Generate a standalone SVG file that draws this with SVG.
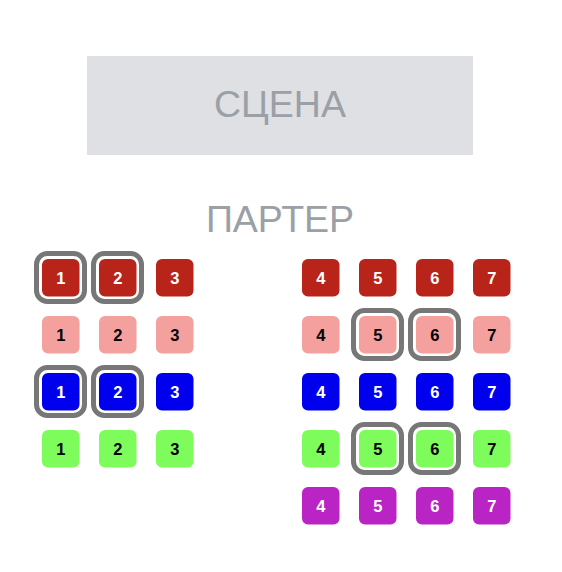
<svg xmlns="http://www.w3.org/2000/svg" width="562" height="572" viewBox="0 0 562 572">
<style>
.r1{fill:#b8241a}
.r2{fill:#f4a09e}
.r3{fill:#0000ee}
.r4{fill:#7dfc5c}
.r5{fill:#bb24c4}
.t{font-family:"Liberation Sans",Arial,sans-serif;font-weight:bold;font-size:16.5px;text-anchor:middle;dominant-baseline:central}
.w{fill:#ffffff}
.b{fill:#000000}
.sel{fill:none;stroke:#777777;stroke-width:5}
.big{font-family:"Liberation Sans",Arial,sans-serif;font-size:37.5px;fill:#9aa0a6;text-anchor:middle}
</style>
<rect width="562" height="572" fill="#ffffff"/>
<g id="stage">
<rect x="87" y="56" width="386" height="99" fill="#dee0e4"/>
<text class="big" x="280" y="117">СЦЕНА</text>
</g>
<g id="parter-label">
<text class="big" x="280" y="232">ПАРТЕР</text>
</g>
<g id="seats">
<g id="row1">
<rect x="36.5" y="253.5" width="48" height="48" rx="11" class="sel"/>
<rect x="93.5" y="253.5" width="48" height="48" rx="11" class="sel"/>
<rect x="42" y="259" width="37.5" height="37.5" rx="6" class="r1"/><text x="60.75" y="278" class="t w">1</text>
<rect x="99" y="259" width="37.5" height="37.5" rx="6" class="r1"/><text x="117.75" y="278" class="t w">2</text>
<rect x="156" y="259" width="37.5" height="37.5" rx="6" class="r1"/><text x="174.75" y="278" class="t w">3</text>
<rect x="302" y="259" width="37.5" height="37.5" rx="6" class="r1"/><text x="320.75" y="278" class="t w">4</text>
<rect x="359" y="259" width="37.5" height="37.5" rx="6" class="r1"/><text x="377.75" y="278" class="t w">5</text>
<rect x="416" y="259" width="37.5" height="37.5" rx="6" class="r1"/><text x="434.75" y="278" class="t w">6</text>
<rect x="473" y="259" width="37.5" height="37.5" rx="6" class="r1"/><text x="491.75" y="278" class="t w">7</text>
</g>
<g id="row2">
<rect x="353.5" y="310.5" width="48" height="48" rx="11" class="sel"/>
<rect x="410.5" y="310.5" width="48" height="48" rx="11" class="sel"/>
<rect x="42" y="316" width="37.5" height="37.5" rx="6" class="r2"/><text x="60.75" y="335" class="t b">1</text>
<rect x="99" y="316" width="37.5" height="37.5" rx="6" class="r2"/><text x="117.75" y="335" class="t b">2</text>
<rect x="156" y="316" width="37.5" height="37.5" rx="6" class="r2"/><text x="174.75" y="335" class="t b">3</text>
<rect x="302" y="316" width="37.5" height="37.5" rx="6" class="r2"/><text x="320.75" y="335" class="t b">4</text>
<rect x="359" y="316" width="37.5" height="37.5" rx="6" class="r2"/><text x="377.75" y="335" class="t b">5</text>
<rect x="416" y="316" width="37.5" height="37.5" rx="6" class="r2"/><text x="434.75" y="335" class="t b">6</text>
<rect x="473" y="316" width="37.5" height="37.5" rx="6" class="r2"/><text x="491.75" y="335" class="t b">7</text>
</g>
<g id="row3">
<rect x="36.5" y="367.5" width="48" height="48" rx="11" class="sel"/>
<rect x="93.5" y="367.5" width="48" height="48" rx="11" class="sel"/>
<rect x="42" y="373" width="37.5" height="37.5" rx="6" class="r3"/><text x="60.75" y="392" class="t w">1</text>
<rect x="99" y="373" width="37.5" height="37.5" rx="6" class="r3"/><text x="117.75" y="392" class="t w">2</text>
<rect x="156" y="373" width="37.5" height="37.5" rx="6" class="r3"/><text x="174.75" y="392" class="t w">3</text>
<rect x="302" y="373" width="37.5" height="37.5" rx="6" class="r3"/><text x="320.75" y="392" class="t w">4</text>
<rect x="359" y="373" width="37.5" height="37.5" rx="6" class="r3"/><text x="377.75" y="392" class="t w">5</text>
<rect x="416" y="373" width="37.5" height="37.5" rx="6" class="r3"/><text x="434.75" y="392" class="t w">6</text>
<rect x="473" y="373" width="37.5" height="37.5" rx="6" class="r3"/><text x="491.75" y="392" class="t w">7</text>
</g>
<g id="row4">
<rect x="353.5" y="424.5" width="48" height="48" rx="11" class="sel"/>
<rect x="410.5" y="424.5" width="48" height="48" rx="11" class="sel"/>
<rect x="42" y="430" width="37.5" height="37.5" rx="6" class="r4"/><text x="60.75" y="449" class="t b">1</text>
<rect x="99" y="430" width="37.5" height="37.5" rx="6" class="r4"/><text x="117.75" y="449" class="t b">2</text>
<rect x="156" y="430" width="37.5" height="37.5" rx="6" class="r4"/><text x="174.75" y="449" class="t b">3</text>
<rect x="302" y="430" width="37.5" height="37.5" rx="6" class="r4"/><text x="320.75" y="449" class="t b">4</text>
<rect x="359" y="430" width="37.5" height="37.5" rx="6" class="r4"/><text x="377.75" y="449" class="t b">5</text>
<rect x="416" y="430" width="37.5" height="37.5" rx="6" class="r4"/><text x="434.75" y="449" class="t b">6</text>
<rect x="473" y="430" width="37.5" height="37.5" rx="6" class="r4"/><text x="491.75" y="449" class="t b">7</text>
</g>
<g id="row5">
<rect x="302" y="487" width="37.5" height="37.5" rx="6" class="r5"/><text x="320.75" y="506" class="t w">4</text>
<rect x="359" y="487" width="37.5" height="37.5" rx="6" class="r5"/><text x="377.75" y="506" class="t w">5</text>
<rect x="416" y="487" width="37.5" height="37.5" rx="6" class="r5"/><text x="434.75" y="506" class="t w">6</text>
<rect x="473" y="487" width="37.5" height="37.5" rx="6" class="r5"/><text x="491.75" y="506" class="t w">7</text>
</g>
</g>
</svg>
